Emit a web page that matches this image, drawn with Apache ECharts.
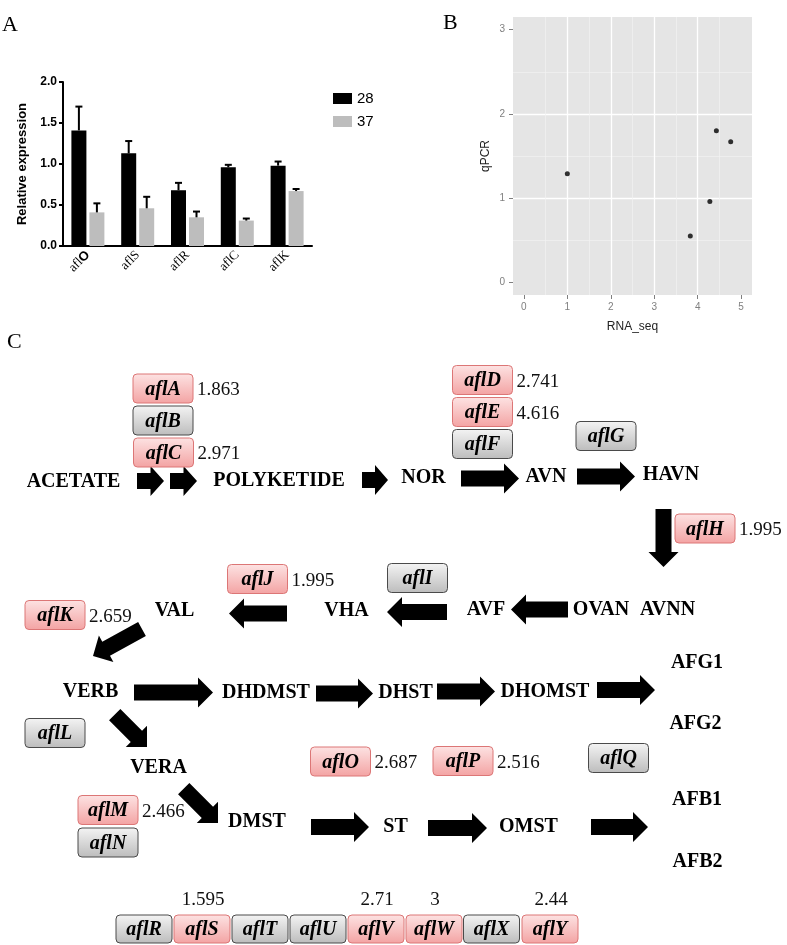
<!DOCTYPE html>
<html><head><meta charset="utf-8">
<script src="https://cdn.jsdelivr.net/npm/echarts@6/dist/echarts.min.js"></script>
<style>html,body{margin:0;padding:0;background:#fff}#c{width:787px;height:945px}</style>
</head><body><div id="c"></div>
<script>
// ---------- Panel A data ----------
const genesA = ['aflO', 'aflS', 'aflR', 'aflC', 'aflK'];
const expr28 = [1.41, 1.13, 0.68, 0.96, 0.98];
const err28 = [0.29, 0.15, 0.09, 0.03, 0.05];
const expr37 = [0.41, 0.46, 0.35, 0.31, 0.67];
const err37 = [0.11, 0.14, 0.07, 0.025, 0.025];
const legendA = ['28', '37'];

// ---------- Panel B data ----------
const rnaSeq = [1.00, 3.83, 4.28, 4.43, 4.76];
const qpcr = [1.29, 0.55, 0.96, 1.80, 1.67];
const xTicksB = [0, 1, 2, 3, 4, 5];
const yTicksB = [0, 1, 2, 3];

// ---------- Panel C data ----------
const metabolites = ['ACETATE', 'POLYKETIDE', 'NOR', 'AVN', 'HAVN', 'AVNN', 'OVAN', 'AVF', 'VHA', 'VAL',
  'VERB', 'DHDMST', 'DHST', 'DHOMST', 'AFG1', 'AFG2', 'VERA', 'DMST', 'ST', 'OMST', 'AFB1', 'AFB2'];
const pathwayGenes = ['aflA', 'aflB', 'aflC', 'aflD', 'aflE', 'aflF', 'aflG', 'aflH', 'aflI', 'aflJ',
  'aflK', 'aflL', 'aflM', 'aflN', 'aflO', 'aflP', 'aflQ'];
const pathwayFold = [1.863, null, 2.971, 2.741, 4.616, null, null, 1.995, null, 1.995,
  2.659, null, 2.466, null, 2.687, 2.516, null];
const clusterGenes = ['aflR', 'aflS', 'aflT', 'aflU', 'aflV', 'aflW', 'aflX', 'aflY'];
const clusterFold = [null, 1.595, null, null, 2.71, 3, null, 2.44];

// ---------- Panel C layout (diagram coordinates) ----------
const metabolitePos = [[73.5, 482], [279, 481], [423.5, 478], [546, 477], [671, 475], [667.5, 610], [601, 610],
  [486, 610], [346.5, 611], [174.5, 611], [90.5, 692], [266, 693], [405.5, 693], [545, 692], [697, 663],
  [695.5, 724], [158.5, 768], [257, 822], [395.5, 827], [528.5, 827], [697, 800], [697.5, 862]];
const pathwayPos = [[163, 388.5], [163, 420.5], [163.5, 452.5], [482.5, 380], [482.5, 412], [482.5, 444],
  [606, 436], [705, 528.5], [417.5, 578], [257.5, 579], [55, 615], [55, 733], [108, 810], [108, 842.5],
  [340.5, 761.5], [463, 761], [618.5, 758]];
const clusterPos = [[144, 929], [202, 929], [260, 929], [318, 929], [376, 929], [434, 929], [491.5, 929], [550, 929]];
const arrowPos = [
  [137, 481, 164, 481], [170, 481, 197, 481], [362, 480, 388, 480], [461, 478.5, 519, 478.5],
  [577, 476.5, 635, 476.5], [663.5, 509, 663.5, 567], [287, 613.5, 229, 613.5], [447, 612, 387, 612],
  [568, 609.5, 511, 609.5], [142, 629, 93, 656], [134, 692.5, 213, 692.5], [316, 693.5, 373, 693.5],
  [437, 691.5, 495, 691.5], [597, 690, 655, 690], [114.7, 714.7, 147, 747], [183.7, 788.7, 218, 823],
  [311, 827, 369, 827], [428, 828, 487, 828], [591, 827, 648, 827]];

const SERIF = '"Liberation Serif", "Times New Roman", serif';
const SANS = '"Liberation Sans", Arial, sans-serif';
const redGrad = {type: 'linear', x: 0, y: 0, x2: 0, y2: 1,
  colorStops: [{offset: 0, color: '#fde3e3'}, {offset: 1, color: '#f3a3a3'}]};
const grayGrad = {type: 'linear', x: 0, y: 0, x2: 0, y2: 1,
  colorStops: [{offset: 0, color: '#f4f4f4'}, {offset: 1, color: '#bcbcbc'}]};

function errRender(offset) {
  return function (params, api) {
    const i = api.value(0), v = api.value(1), e = api.value(2);
    const p0 = api.coord([i, v]);
    const p1 = api.coord([i, v + e]);
    const x = p0[0] + offset;
    return {type: 'group', children: [
      {type: 'line', shape: {x1: x, y1: p0[1], x2: x, y2: p1[1]}, style: {stroke: '#000', lineWidth: 2}},
      {type: 'line', shape: {x1: x - 3.5, y1: p1[1], x2: x + 3.5, y2: p1[1]}, style: {stroke: '#000', lineWidth: 2}}
    ]};
  };
}

function boxRender(names, folds, w, h, fontSize, mode) {
  return function (params, api) {
    const i = params.dataIndex;
    const p = api.coord([api.value(0), api.value(1)]);
    const red = folds[i] != null;
    const ch = [
      {type: 'rect', shape: {x: p[0] - w / 2, y: p[1] - h / 2, width: w, height: h, r: 4},
        style: {fill: red ? redGrad : grayGrad, stroke: red ? '#dc7676' : '#4a4a4a', lineWidth: 1}},
      {type: 'text', x: p[0], y: p[1] + 1,
        style: {text: names[i], font: 'italic bold ' + fontSize + 'px ' + SERIF, fill: '#000',
          align: 'center', verticalAlign: 'middle'}}
    ];
    if (red) {
      if (mode === 'right') {
        ch.push({type: 'text', x: p[0] + w / 2 + 4, y: p[1] + 2,
          style: {text: String(folds[i]), font: '19px ' + SERIF, fill: '#111', align: 'left', verticalAlign: 'middle'}});
      } else {
        ch.push({type: 'text', x: p[0] + 1, y: p[1] - 29,
          style: {text: String(folds[i]), font: '19px ' + SERIF, fill: '#111', align: 'center', verticalAlign: 'middle'}});
      }
    }
    return {type: 'group', children: ch};
  };
}

function arrowRender(params, api) {
  const a = api.coord([api.value(0), api.value(1)]);
  const b = api.coord([api.value(2), api.value(3)]);
  const dx = b[0] - a[0], dy = b[1] - a[1];
  const L = Math.sqrt(dx * dx + dy * dy);
  const ux = dx / L, uy = dy / L, nx = -uy, ny = ux;
  const hw = 8, HW = 15, HL = Math.min(15, L * 0.5);
  const bx = b[0] - ux * HL, by = b[1] - uy * HL;
  const pts = [
    [a[0] + nx * hw, a[1] + ny * hw], [bx + nx * hw, by + ny * hw], [bx + nx * HW, by + ny * HW],
    [b[0], b[1]], [bx - nx * HW, by - ny * HW], [bx - nx * hw, by - ny * hw], [a[0] - nx * hw, a[1] - ny * hw]
  ];
  return {type: 'polygon', shape: {points: pts}, style: {fill: '#000'}};
}

function textRender(params, api) {
  const p = api.coord([api.value(0), api.value(1)]);
  return {type: 'text', x: p[0], y: p[1],
    style: {text: metabolites[params.dataIndex], font: 'bold 20px ' + SERIF, fill: '#000',
      align: 'center', verticalAlign: 'middle'}};
}

const chart = echarts.init(document.getElementById('c'), null, {renderer: 'canvas'});
chart.setOption({
  animation: false,
  backgroundColor: '#fff',
  graphic: [
    {type: 'text', left: 2, top: 14, style: {text: 'A', font: '22px ' + SERIF, fill: '#000'}},
    {type: 'text', left: 443, top: 12, style: {text: 'B', font: '22px ' + SERIF, fill: '#000'}},
    {type: 'text', left: 7, top: 331, style: {text: 'C', font: '22px ' + SERIF, fill: '#000'}}
  ],
  legend: {
    data: legendA, left: 328, top: 86, orient: 'vertical', icon: 'rect',
    itemWidth: 19, itemHeight: 11, itemGap: 8,
    textStyle: {fontFamily: SANS, fontSize: 15, color: '#000', padding: [0, 0, 0, 0]}
  },
  grid: [
    {left: 63, top: 82, width: 249, height: 164, outerBoundsMode: 'none'},
    {left: 513, top: 17, width: 239, height: 278, show: true, backgroundColor: '#e5e5e5', borderWidth: 0, outerBoundsMode: 'none'},
    {left: 0, top: 0, width: 787, height: 945, outerBoundsMode: 'none'}
  ],
  xAxis: [
    {gridIndex: 0, type: 'category', data: genesA,
      axisLine: {onZero: false, lineStyle: {color: '#000', width: 2}},
      axisTick: {alignWithLabel: true, length: 5, lineStyle: {color: '#000', width: 2}},
      axisLabel: {rotate: 45, margin: 7, color: '#000', fontFamily: SERIF, fontSize: 13,
        formatter: function (v) { return v === 'aflO' ? '{a|afl}{b|O}' : '{a|' + v + '}'; },
        rich: {a: {fontFamily: SERIF, fontSize: 13, color: '#000'},
          b: {fontFamily: SANS, fontWeight: 'bold', fontSize: 13, color: '#000'}}}},
    {gridIndex: 1, type: 'value', min: -0.25, max: 5.25, splitNumber: 5,
      name: 'RNA_seq', nameLocation: 'middle', nameGap: 26,
      nameTextStyle: {color: '#222', fontSize: 12, fontFamily: SANS},
      axisLine: {show: false, onZero: false},
      axisTick: {show: true, length: 4, customValues: xTicksB, lineStyle: {color: '#7f7f7f'}},
      axisLabel: {customValues: xTicksB, color: '#7f7f7f', fontSize: 10, fontFamily: SANS, margin: 7},
      splitLine: {show: true, showMinLine: false, showMaxLine: false, lineStyle: {color: '#ffffff', width: 1.3}},
      minorTick: {show: false, splitNumber: 2},
      minorSplitLine: {show: true, lineStyle: {color: '#f2f2f2', width: 0.7}}},
    {gridIndex: 2, type: 'value', min: 0, max: 787, show: false}
  ],
  yAxis: [
    {gridIndex: 0, type: 'value', min: 0, max: 2, interval: 0.5,
      name: 'Relative expression', nameLocation: 'middle', nameGap: 34, nameRotate: 90,
      nameTextStyle: {fontFamily: SANS, fontWeight: 'bold', fontSize: 13, color: '#000'},
      axisLine: {show: true, onZero: false, lineStyle: {color: '#000', width: 2}},
      axisTick: {show: true, length: 4, lineStyle: {color: '#000', width: 2}},
      axisLabel: {color: '#000', fontFamily: SANS, fontWeight: 'bold', fontSize: 12, margin: 6,
        formatter: function (v) { return v.toFixed(1); }},
      splitLine: {show: false}},
    {gridIndex: 1, type: 'value', min: -0.15, max: 3.15, splitNumber: 3,
      name: 'qPCR', nameLocation: 'middle', nameGap: 21, nameRotate: 90,
      nameTextStyle: {color: '#222', fontSize: 12, fontFamily: SANS},
      axisLine: {show: false, onZero: false},
      axisTick: {show: true, length: 4, customValues: yTicksB, lineStyle: {color: '#7f7f7f'}},
      axisLabel: {customValues: yTicksB, color: '#7f7f7f', fontSize: 10, fontFamily: SANS, margin: 8},
      splitLine: {show: true, showMinLine: false, showMaxLine: false, lineStyle: {color: '#ffffff', width: 1.3}},
      minorTick: {show: false, splitNumber: 2},
      minorSplitLine: {show: true, lineStyle: {color: '#f2f2f2', width: 0.7}}},
    {gridIndex: 2, type: 'value', min: 0, max: 945, inverse: true, show: false}
  ],
  series: [
    {name: '28', type: 'bar', xAxisIndex: 0, yAxisIndex: 0, data: expr28, barWidth: 15, barGap: '20%',
      itemStyle: {color: '#000'}},
    {name: '37', type: 'bar', xAxisIndex: 0, yAxisIndex: 0, data: expr37, barWidth: 15, barGap: '20%',
      itemStyle: {color: '#bdbdbd'}},
    {type: 'custom', xAxisIndex: 0, yAxisIndex: 0, renderItem: errRender(-9), z: 3,
      data: genesA.map(function (g, i) { return [i, expr28[i], err28[i]]; })},
    {type: 'custom', xAxisIndex: 0, yAxisIndex: 0, renderItem: errRender(9), z: 3,
      data: genesA.map(function (g, i) { return [i, expr37[i], err37[i]]; })},
    {type: 'scatter', xAxisIndex: 1, yAxisIndex: 1, symbolSize: 5, itemStyle: {color: '#000'},
      data: rnaSeq.map(function (x, i) { return [x, qpcr[i]]; })},
    {type: 'custom', xAxisIndex: 2, yAxisIndex: 2, renderItem: arrowRender, data: arrowPos, clip: false, silent: true},
    {type: 'custom', xAxisIndex: 2, yAxisIndex: 2, renderItem: textRender, data: metabolitePos, clip: false, silent: true},
    {type: 'custom', xAxisIndex: 2, yAxisIndex: 2, data: pathwayPos, clip: false, silent: true,
      renderItem: boxRender(pathwayGenes, pathwayFold, 60, 29, 20, 'right')},
    {type: 'custom', xAxisIndex: 2, yAxisIndex: 2, data: clusterPos, clip: false, silent: true,
      renderItem: boxRender(clusterGenes, clusterFold, 56, 28, 20, 'top')}
  ]
});
</script></body></html>
